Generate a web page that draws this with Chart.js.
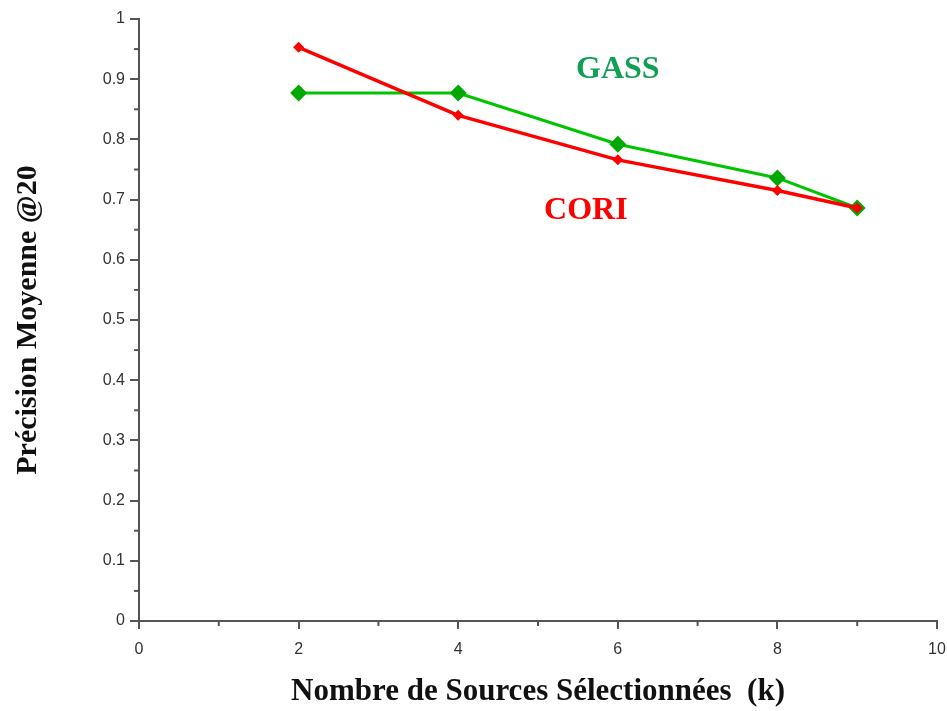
<!DOCTYPE html>
<html lang="fr">
<head>
<meta charset="UTF-8">
<title>Précision Moyenne @20</title>
<script src="https://cdn.jsdelivr.net/npm/chart.js"></script>
<style>
  body { margin: 0; background: #fff; }
</style>
</head>
<body>
<canvas id="graphe" width="947" height="711"></canvas>
<script>
  // valeurs
  const sources = [2, 4, 6, 8, 9];
  const cori = [0.953, 0.840, 0.766, 0.715, 0.686];
  const gass = [0.877, 0.877, 0.792, 0.736, 0.686];
  const xTicks = [0, 2, 4, 6, 8, 10];
  const yTicks = [0, 0.1, 0.2, 0.3, 0.4, 0.5, 0.6, 0.7, 0.8, 0.9, 1];

  const pts = (ys) => sources.map((x, i) => ({ x: x, y: ys[i] }));
  const axisColor = '#555';

  // petites graduations + étiquettes GASS / CORI
  const extras = {
    id: 'extras',
    afterDraw(chart) {
      const c = chart.ctx;
      const sx = chart.scales.x, sy = chart.scales.y;
      c.save();
      c.strokeStyle = axisColor;
      c.lineWidth = 2;
      for (let v = 1; v < 10; v += 2) {
        const px = sx.getPixelForValue(v);
        c.beginPath(); c.moveTo(px, sy.bottom); c.lineTo(px, sy.bottom + 5); c.stroke();
      }
      for (let v = 0.05; v < 1; v += 0.1) {
        const py = sy.getPixelForValue(v);
        c.beginPath(); c.moveTo(sx.left - 5, py); c.lineTo(sx.left, py); c.stroke();
      }
      c.font = 'bold 32px "Liberation Serif", serif';
      c.textAlign = 'center';
      c.textBaseline = 'middle';
      c.fillStyle = '#10a055';
      c.fillText('GASS', sx.getPixelForValue(6.0), sy.getPixelForValue(0.915));
      c.fillStyle = '#ff0000';
      c.fillText('CORI', sx.getPixelForValue(5.6), sy.getPixelForValue(0.681));
      c.restore();
    }
  };

  new Chart(document.getElementById('graphe'), {
    type: 'line',
    data: {
      datasets: [
        {
          label: 'CORI',
          data: pts(cori),
          borderColor: '#ff0000',
          backgroundColor: '#ff0000',
          borderWidth: 3.5,
          pointStyle: 'rectRot',
          pointRadius: 5.5,
          pointBorderWidth: 0,
          tension: 0
        },
        {
          label: 'GASS',
          data: pts(gass),
          borderColor: '#00c400',
          backgroundColor: '#00a800',
          borderWidth: 3,
          pointStyle: 'rectRot',
          pointRadius: 8.5,
          pointBorderWidth: 0,
          tension: 0
        }
      ]
    },
    options: {
      responsive: false,
      devicePixelRatio: 1,
      animation: false,
      layout: { padding: { top: 19, right: 10, bottom: 0, left: 0 } },
      plugins: { legend: { display: false }, tooltip: { enabled: false } },
      scales: {
        x: {
          type: 'linear',
          min: 0, max: 10,
          afterFit: (s) => { s.height = 90; s.paddingRight = 0; s.paddingLeft = 0; },
          afterBuildTicks: (s) => { s.ticks = xTicks.map(v => ({ value: v })); },
          grid: { drawOnChartArea: false, color: axisColor, lineWidth: 2, tickLength: 8 },
          border: { color: axisColor, width: 2 },
          ticks: { color: '#333', font: { family: '"Liberation Sans", Arial', size: 16 }, padding: 11, maxRotation: 0 },
          title: {
            display: true,
            text: 'Nombre de Sources Sélectionnées  (k)',
            color: '#111',
            font: { family: '"Liberation Serif", serif', size: 31, weight: 'bold' },
            padding: { top: 0, bottom: 0 }
          }
        },
        y: {
          min: 0, max: 1,
          afterFit: (s) => { s.width = 139; },
          afterBuildTicks: (s) => { s.ticks = yTicks.map(v => ({ value: v })); },
          grid: { drawOnChartArea: false, color: axisColor, lineWidth: 2, tickLength: 9 },
          border: { color: axisColor, width: 2 },
          ticks: {
            color: '#333',
            font: { family: '"Liberation Sans", Arial', size: 16 },
            padding: 5,
            callback: (v) => String(Number(v.toFixed(1)))
          },
          title: {
            display: true,
            text: 'Précision Moyenne @20',
            color: '#111',
            font: { family: '"Liberation Serif", serif', size: 30, weight: 'bold' },
            padding: { top: 10, bottom: 0 }
          }
        }
      }
    },
    plugins: [extras]
  });
</script>
</body>
</html>
